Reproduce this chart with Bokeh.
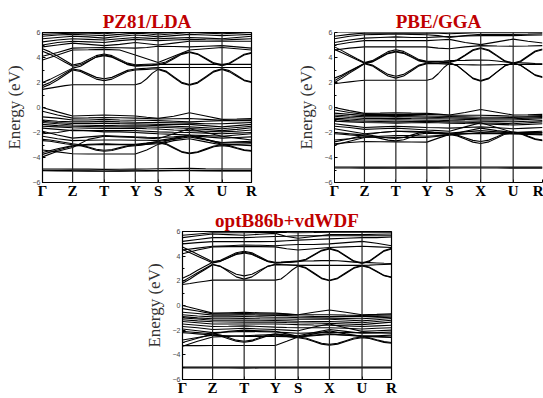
from bokeh.plotting import figure
from bokeh.layouts import column, row
from bokeh.models import FixedTicker, Span, Spacer, Range1d
from bokeh.embed import file_html
from bokeh.resources import INLINE

K_LABELS = ["Γ", "Z", "T", "Y", "S", "X", "U", "R"]
K_POS = [0.0, 0.144, 0.295, 0.444, 0.553, 0.703, 0.859, 1.0]
Y_TICKS = [-6, -4, -2, 0, 2, 4, 6]
TITLES = ["PZ81/LDA", "PBE/GGA", "optB86b+vdWDF"]

# Flatter bands: energies (eV) at Γ, mid, Z, mid, T, mid, Y, mid, S, mid, X, mid, U, mid, R
LDA_VALENCE = [
    [0.0, -0.35, -0.68, -0.64, -0.6, -0.64, -0.68, -0.78, -0.87, -0.7, -0.42, -0.68, -0.95, -0.92, -0.88],
    [-0.3, -0.6, -0.85, -0.83, -0.8, -0.82, -0.85, -0.88, -0.92, -0.9, -0.88, -0.95, -1.02, -1.0, -0.98],
    [-0.75, -0.85, -1.0, -1.0, -0.95, -1.0, -1.02, -1.02, -1.05, -1.1, -1.15, -1.1, -1.05, -1.05, -1.05],
    [-1.0, -1.1, -1.15, -1.15, -1.1, -1.15, -1.18, -1.2, -1.2, -1.22, -1.25, -1.3, -1.3, -1.25, -1.2],
    [-1.1, -1.2, -1.28, -1.28, -1.25, -1.28, -1.3, -1.32, -1.35, -1.35, -1.35, -1.45, -1.55, -1.45, -1.35],
    [-1.2, -1.3, -1.4, -1.42, -1.45, -1.42, -1.4, -1.42, -1.45, -1.5, -1.55, -1.62, -1.7, -1.6, -1.5],
    [-1.35, -1.45, -1.5, -1.52, -1.55, -1.55, -1.55, -1.55, -1.58, -1.62, -1.68, -1.75, -1.85, -1.75, -1.62],
    [-1.5, -1.55, -1.62, -1.65, -1.68, -1.68, -1.65, -1.7, -1.72, -1.8, -1.85, -1.9, -1.95, -1.9, -1.8],
    [-1.65, -1.75, -1.85, -1.85, -1.85, -1.85, -1.85, -1.9, -1.95, -1.98, -2.0, -2.05, -2.1, -2.05, -2.0],
    [-1.9, -2.2, -2.45, -2.35, -2.25, -2.3, -2.35, -2.38, -2.4, -2.35, -2.25, -2.35, -2.45, -2.4, -2.35],
    [-2.1, -2.0, -1.8, -1.85, -1.95, -1.95, -2.0, -2.05, -2.1, -2.15, -2.2, -2.25, -2.3, -2.45, -2.6],
    [-2.3, -2.5, -2.65, -2.62, -2.6, -2.6, -2.62, -2.62, -2.65, -2.45, -2.25, -2.55, -2.85, -2.82, -2.8],
    [-3.4, -3.55, -3.7, -3.72, -3.72, -3.72, -3.72, -3.4, -2.95, -2.65, -2.5, -2.75, -3.0, -2.95, -2.9],
    [-3.6, -3.3, -3.05, -2.95, -2.9, -2.95, -2.95, -2.85, -2.72, -2.55, -2.35, -2.6, -2.8, -2.75, -2.7],
    [-3.75, -3.4, -3.1, -3.0, -2.95, -2.98, -3.0, -2.95, -2.9, -2.5, -2.2, -2.55, -2.95, -3.0, -3.05],
    [-3.95, -3.5, -3.2, -2.55, -2.3, -2.35, -2.4, -2.45, -2.5, -2.1, -1.7, -2.0, -2.3, -2.2, -2.1],
    [-4.92, -4.92, -4.93, -4.93, -4.95, -4.94, -4.93, -4.92, -4.9, -4.88, -4.87, -4.9, -4.92, -4.92, -4.92],
    [-5.02, -5.03, -5.05, -5.06, -5.08, -5.07, -5.06, -5.05, -5.04, -5.03, -5.02, -5.03, -5.05, -5.05, -5.05],
    [-5.06, -5.07, -5.08, -5.09, -5.1, -5.09, -5.08, -5.08, -5.07, -5.06, -5.06, -5.07, -5.08, -5.08, -5.08],
]
LDA_UPPER = [
    [3.8, 4.2, 4.6, 4.62, 4.65, 4.6, 4.2, 3.9, 3.6, 4.1, 4.6, 4.7, 4.8, 4.7, 4.6],
    [4.1, 4.4, 4.75, 4.78, 4.8, 4.78, 4.75, 4.8, 4.9, 4.88, 4.85, 4.9, 4.95, 4.85, 4.75],
    [4.85, 5.0, 5.15, 5.05, 4.95, 5.05, 5.2, 5.1, 5.0, 5.15, 5.3, 5.3, 5.3, 5.3, 5.3],
    [5.0, 5.2, 5.3, 5.25, 5.2, 5.35, 5.45, 5.4, 5.35, 5.4, 5.45, 5.42, 5.4, 5.45, 5.5],
    [5.25, 5.4, 5.5, 5.45, 5.4, 5.5, 5.6, 5.55, 5.5, 5.55, 5.6, 5.55, 5.5, 5.6, 5.7],
    [5.5, 5.6, 5.7, 5.65, 5.55, 5.7, 5.8, 5.75, 5.65, 5.75, 5.85, 5.8, 5.75, 5.8, 5.85],
    [5.7, 5.8, 5.85, 5.8, 5.75, 5.85, 5.95, 5.9, 5.8, 5.9, 6.0, 5.95, 5.9, 5.95, 6.0],
    [5.85, 5.9, 5.95, 5.95, 5.9, 6.0, 6.05, 6.0, 5.95, 6.0, 6.1, 6.05, 6.0, 6.05, 6.1],
]
# Dispersive bands: energies at Γ, 3 quarter points, Z, 3, T, 3, Y, 3, S, 3, X, 3, U, 3, R
LDA_DISPERSIVE = [
    [1.45, 1.55, 1.65, 1.75, 1.82, 1.82, 1.82, 1.82, 1.82, 1.82, 1.82, 1.82, 1.82, 1.95, 2.3, 2.75, 3.05, 2.85, 2.4, 1.95, 1.78, 1.95, 2.4, 2.85, 3.05, 2.85, 2.5, 2.15, 2.0],
    [1.6, 1.85, 2.2, 2.6, 3.0, 2.88, 2.58, 2.27, 2.15, 2.27, 2.58, 2.88, 3.0, 3.03, 3.05, 3.08, 3.1, 2.92, 2.47, 2.02, 1.83, 2.02, 2.47, 2.92, 3.1, 2.95, 2.58, 2.2, 2.05],
    [1.75, 2.0, 2.35, 2.72, 3.08, 2.97, 2.69, 2.41, 2.3, 2.41, 2.69, 2.97, 3.08, 3.11, 3.14, 3.17, 3.2, 3.2, 3.2, 3.2, 3.2, 3.2, 3.2, 3.2, 3.2, 3.2, 3.2, 3.2, 3.2],
    [4.5, 4.25, 3.95, 3.62, 3.3, 3.42, 3.72, 4.03, 4.15, 4.03, 3.75, 3.47, 3.35, 3.37, 3.4, 3.42, 3.45, 3.45, 3.45, 3.45, 3.45, 3.45, 3.45, 3.45, 3.45, 3.45, 3.45, 3.45, 3.45],
    [4.7, 4.45, 4.12, 3.76, 3.4, 3.53, 3.84, 4.15, 4.28, 4.15, 3.85, 3.55, 3.42, 3.44, 3.46, 3.48, 3.5, 3.64, 3.98, 4.31, 4.45, 4.3, 3.94, 3.57, 3.42, 3.56, 3.91, 4.26, 4.4],
    [2.0, 2.25, 2.55, 2.85, 3.15, 3.3, 3.68, 4.05, 4.2, 4.07, 3.75, 3.43, 3.3, 3.32, 3.35, 3.37, 3.4, 3.55, 3.9, 4.25, 4.4, 4.25, 3.88, 3.5, 3.35, 3.5, 3.85, 4.2, 4.35],
    [-2.55, -2.6, -2.7, -2.8, -2.9, -2.98, -3.16, -3.34, -3.42, -3.36, -3.21, -3.06, -3.0, -2.95, -2.87, -2.8, -2.75, -2.88, -3.2, -3.52, -3.65, -3.55, -3.31, -3.08, -2.98, -3.05, -3.22, -3.38, -3.45],
    [-2.65, -2.7, -2.8, -2.9, -2.98, -3.05, -3.22, -3.42, -3.5, -3.44, -3.28, -3.12, -3.06, -3.02, -2.94, -2.87, -2.82, -2.95, -3.26, -3.57, -3.7, -3.6, -3.37, -3.14, -3.05, -3.12, -3.28, -3.43, -3.5],
]

PBE_VALENCE = [
    [0.0, -0.25, -0.47, -0.45, -0.42, -0.45, -0.47, -0.53, -0.6, -0.4, -0.16, -0.38, -0.6, -0.58, -0.55],
    [-0.2, -0.4, -0.55, -0.55, -0.55, -0.55, -0.55, -0.58, -0.62, -0.62, -0.62, -0.65, -0.7, -0.68, -0.65],
    [-0.45, -0.55, -0.65, -0.65, -0.62, -0.65, -0.68, -0.7, -0.72, -0.75, -0.78, -0.78, -0.8, -0.75, -0.72],
    [-0.6, -0.68, -0.75, -0.75, -0.72, -0.75, -0.78, -0.8, -0.82, -0.85, -0.9, -0.9, -0.9, -0.85, -0.8],
    [-0.7, -0.8, -0.88, -0.88, -0.85, -0.88, -0.9, -0.9, -0.92, -0.95, -1.0, -1.0, -1.0, -0.95, -0.9],
    [-0.85, -0.92, -1.0, -1.0, -0.98, -1.0, -1.02, -1.02, -1.05, -1.08, -1.1, -1.12, -1.15, -1.1, -1.05],
    [-0.95, -1.05, -1.1, -1.12, -1.15, -1.12, -1.1, -1.12, -1.15, -1.18, -1.22, -1.25, -1.3, -1.22, -1.15],
    [-1.1, -1.15, -1.2, -1.22, -1.25, -1.22, -1.2, -1.22, -1.25, -1.28, -1.3, -1.35, -1.4, -1.35, -1.3],
    [-1.3, -1.45, -1.6, -1.55, -1.5, -1.55, -1.6, -1.62, -1.65, -1.6, -1.55, -1.62, -1.7, -1.65, -1.6],
    [-1.5, -1.6, -1.75, -1.7, -1.65, -1.72, -1.8, -1.85, -1.9, -1.55, -1.22, -1.6, -2.0, -1.95, -1.9],
    [-1.7, -1.9, -2.1, -2.0, -1.9, -1.95, -2.0, -2.05, -2.1, -2.1, -2.1, -2.1, -2.1, -2.1, -2.1],
    [-2.6, -2.5, -2.35, -2.38, -2.4, -2.4, -2.4, -2.3, -2.2, -2.1, -2.0, -2.05, -2.1, -2.05, -2.0],
    [-2.75, -2.5, -2.2, -2.0, -1.9, -1.9, -1.95, -2.0, -2.05, -1.95, -1.85, -1.95, -2.05, -2.1, -2.15],
    [-2.9, -2.8, -2.72, -2.74, -2.75, -2.76, -2.77, -2.45, -2.15, -2.1, -2.05, -2.08, -2.1, -2.15, -2.2],
    [-3.0, -2.7, -2.4, -2.3, -2.25, -2.25, -2.3, -2.25, -2.2, -1.9, -1.65, -1.85, -2.0, -2.0, -2.0],
    [-4.76, -4.76, -4.77, -4.77, -4.77, -4.77, -4.77, -4.77, -4.76, -4.76, -4.76, -4.76, -4.77, -4.77, -4.77],
    [-4.84, -4.84, -4.85, -4.85, -4.86, -4.85, -4.85, -4.85, -4.84, -4.84, -4.84, -4.84, -4.85, -4.85, -4.85],
]
PBE_UPPER = [
    [4.6, 4.75, 4.85, 4.85, 4.85, 4.85, 4.85, 4.75, 4.7, 4.85, 4.95, 4.92, 4.9, 4.92, 4.95],
    [5.0, 5.2, 5.35, 5.35, 5.35, 5.35, 5.35, 5.4, 5.45, 5.2, 5.03, 5.25, 5.47, 5.3, 5.16],
    [5.2, 5.4, 5.55, 5.6, 5.65, 5.6, 5.6, 5.65, 5.68, 5.72, 5.75, 5.75, 5.75, 5.78, 5.8],
    [5.5, 5.7, 5.82, 5.85, 5.88, 5.85, 5.82, 5.75, 5.6, 5.75, 5.85, 5.85, 5.85, 5.87, 5.9],
    [5.7, 5.85, 5.95, 5.95, 5.95, 5.95, 5.95, 5.95, 5.9, 5.95, 6.0, 6.0, 6.0, 6.0, 6.0],
]
PBE_DISPERSIVE = [
    [1.9, 1.98, 2.05, 2.12, 2.18, 2.18, 2.18, 2.18, 2.18, 2.18, 2.18, 2.18, 2.18, 2.3, 2.7, 3.2, 3.55, 3.34, 2.83, 2.31, 2.1, 2.31, 2.83, 3.34, 3.55, 3.38, 2.98, 2.57, 2.4],
    [2.0, 2.35, 2.75, 3.12, 3.5, 3.33, 2.92, 2.52, 2.35, 2.52, 2.92, 3.33, 3.5, 3.51, 3.52, 3.54, 3.55, 3.35, 2.85, 2.35, 2.15, 2.35, 2.85, 3.35, 3.55, 3.39, 3.0, 2.61, 2.45],
    [2.15, 2.5, 2.85, 3.2, 3.55, 3.4, 3.02, 2.65, 2.5, 2.65, 3.02, 3.4, 3.55, 3.52, 3.5, 3.48, 3.45, 3.44, 3.42, 3.41, 3.4, 3.41, 3.42, 3.44, 3.45, 3.45, 3.45, 3.45, 3.45],
    [4.65, 4.38, 4.1, 3.82, 3.55, 3.69, 4.02, 4.36, 4.5, 4.38, 4.07, 3.77, 3.65, 3.67, 3.7, 3.72, 3.75, 3.76, 3.77, 3.79, 3.8, 3.78, 3.72, 3.64, 3.6, 3.58, 3.55, 3.52, 3.5],
    [4.85, 4.55, 4.22, 3.9, 3.6, 3.75, 4.1, 4.47, 4.62, 4.49, 4.16, 3.83, 3.7, 3.69, 3.68, 3.66, 3.65, 3.82, 4.2, 4.62, 4.78, 4.6, 4.17, 3.73, 3.55, 3.72, 4.12, 4.52, 4.68],
    [2.35, 2.6, 2.92, 3.22, 3.5, 3.64, 3.98, 4.31, 4.45, 4.33, 4.03, 3.72, 3.6, 3.62, 3.62, 3.61, 3.6, 3.76, 4.16, 4.56, 4.72, 4.54, 4.11, 3.68, 3.5, 3.66, 4.06, 4.46, 4.62],
    [-2.0, -2.05, -2.1, -2.15, -2.2, -2.24, -2.34, -2.44, -2.48, -2.4, -2.21, -2.03, -1.95, -1.98, -2.04, -2.09, -2.12, -2.21, -2.42, -2.63, -2.72, -2.61, -2.34, -2.06, -1.95, -2.05, -2.28, -2.5, -2.6],
    [-2.1, -2.14, -2.19, -2.23, -2.28, -2.34, -2.47, -2.61, -2.67, -2.58, -2.36, -2.14, -2.05, -2.07, -2.1, -2.13, -2.16, -2.27, -2.52, -2.77, -2.88, -2.75, -2.44, -2.13, -2.0, -2.1, -2.33, -2.55, -2.65],
]

OPT_VALENCE = [
    [0.0, -0.3, -0.62, -0.59, -0.56, -0.59, -0.62, -0.68, -0.75, -0.55, -0.36, -0.55, -0.75, -0.72, -0.67],
    [-0.25, -0.45, -0.68, -0.68, -0.66, -0.68, -0.7, -0.72, -0.75, -0.75, -0.75, -0.78, -0.8, -0.78, -0.75],
    [-0.55, -0.65, -0.78, -0.78, -0.76, -0.78, -0.8, -0.82, -0.85, -0.88, -0.9, -0.9, -0.9, -0.88, -0.85],
    [-0.75, -0.85, -0.92, -0.92, -0.9, -0.92, -0.95, -0.95, -0.98, -1.0, -1.02, -1.05, -1.08, -1.0, -0.95],
    [-0.9, -1.0, -1.08, -1.08, -1.05, -1.08, -1.1, -1.1, -1.12, -1.12, -1.12, -1.18, -1.25, -1.15, -1.05],
    [-1.0, -1.1, -1.2, -1.2, -1.2, -1.2, -1.22, -1.25, -1.28, -1.3, -1.3, -1.35, -1.4, -1.3, -1.2],
    [-1.15, -1.25, -1.32, -1.34, -1.35, -1.35, -1.35, -1.38, -1.4, -1.42, -1.45, -1.5, -1.55, -1.45, -1.35],
    [-1.3, -1.4, -1.5, -1.5, -1.5, -1.5, -1.5, -1.52, -1.55, -1.58, -1.6, -1.65, -1.7, -1.65, -1.6],
    [-1.5, -1.6, -1.7, -1.68, -1.65, -1.7, -1.75, -1.78, -1.8, -1.8, -1.8, -1.85, -1.9, -1.85, -1.8],
    [-1.7, -1.8, -1.95, -1.9, -1.85, -1.9, -1.95, -2.0, -2.05, -1.75, -1.5, -1.8, -2.1, -2.05, -2.0],
    [-1.9, -2.05, -2.2, -2.15, -2.1, -2.12, -2.15, -2.2, -2.25, -2.22, -2.2, -2.2, -2.2, -2.22, -2.25],
    [-2.8, -2.6, -2.4, -2.45, -2.5, -2.5, -2.5, -2.52, -2.55, -2.3, -2.06, -2.3, -2.5, -2.45, -2.4],
    [-3.0, -2.65, -2.3, -2.1, -2.0, -2.05, -2.1, -2.3, -2.5, -2.4, -2.3, -2.4, -2.5, -2.55, -2.6],
    [-3.25, -3.25, -3.24, -3.24, -3.24, -3.24, -3.24, -2.9, -2.55, -2.45, -2.35, -2.4, -2.45, -2.5, -2.55],
    [-3.3, -2.9, -2.55, -2.5, -2.45, -2.4, -2.35, -2.4, -2.45, -2.2, -1.95, -2.1, -2.25, -2.2, -2.15],
    [-4.99, -4.99, -5.0, -5.0, -5.0, -5.0, -5.0, -5.0, -4.99, -4.99, -4.99, -4.99, -5.0, -5.0, -5.0],
    [-5.06, -5.06, -5.07, -5.07, -5.08, -5.07, -5.07, -5.07, -5.06, -5.06, -5.06, -5.06, -5.07, -5.07, -5.07],
]
OPT_UPPER = [
    [4.2, 4.5, 4.75, 4.77, 4.78, 4.77, 4.75, 4.6, 4.5, 4.6, 4.7, 4.75, 4.8, 4.75, 4.7],
    [4.5, 4.65, 4.8, 4.85, 4.9, 4.88, 4.85, 4.9, 4.95, 4.95, 5.0, 5.1, 5.2, 5.05, 4.85],
    [5.0, 5.1, 5.18, 5.18, 5.18, 5.18, 5.2, 5.25, 5.3, 5.35, 5.4, 5.45, 5.5, 5.5, 5.55],
    [5.2, 5.35, 5.5, 5.5, 5.5, 5.55, 5.6, 5.62, 5.65, 5.65, 5.65, 5.65, 5.65, 5.65, 5.65],
    [5.5, 5.65, 5.8, 5.75, 5.7, 5.78, 5.85, 5.6, 5.45, 5.6, 5.75, 5.75, 5.75, 5.78, 5.8],
    [5.7, 5.8, 5.9, 5.9, 5.9, 5.92, 5.95, 5.92, 5.9, 5.92, 5.95, 5.95, 5.95, 5.95, 5.95],
]
OPT_DISPERSIVE = [
    [1.7, 1.78, 1.88, 1.97, 2.06, 2.06, 2.06, 2.06, 2.06, 2.06, 2.06, 2.06, 2.06, 2.15, 2.5, 2.9, 3.2, 3.02, 2.6, 2.18, 2.0, 2.18, 2.6, 3.02, 3.2, 3.06, 2.73, 2.41, 2.27],
    [1.8, 2.15, 2.55, 2.92, 3.3, 3.17, 2.85, 2.53, 2.4, 2.53, 2.85, 3.17, 3.3, 3.29, 3.28, 3.26, 3.25, 3.07, 2.65, 2.23, 2.05, 2.23, 2.65, 3.07, 3.25, 3.11, 2.78, 2.44, 2.3],
    [1.95, 2.3, 2.65, 3.0, 3.35, 3.17, 2.75, 2.32, 2.14, 2.32, 2.75, 3.17, 3.35, 3.32, 3.3, 3.28, 3.25, 3.25, 3.25, 3.25, 3.25, 3.25, 3.25, 3.25, 3.25, 3.27, 3.3, 3.33, 3.35],
    [4.55, 4.28, 4.0, 3.72, 3.45, 3.58, 3.88, 4.19, 4.32, 4.19, 3.88, 3.58, 3.45, 3.48, 3.52, 3.56, 3.6, 3.61, 3.62, 3.64, 3.65, 3.63, 3.58, 3.52, 3.5, 3.48, 3.45, 3.42, 3.4],
    [4.75, 4.45, 4.15, 3.85, 3.55, 3.67, 3.98, 4.28, 4.4, 4.27, 3.95, 3.63, 3.5, 3.52, 3.55, 3.58, 3.6, 3.75, 4.12, 4.48, 4.63, 4.46, 4.04, 3.62, 3.45, 3.62, 4.04, 4.46, 4.63],
    [2.2, 2.5, 2.85, 3.18, 3.5, 3.61, 3.88, 4.14, 4.25, 4.13, 3.85, 3.57, 3.45, 3.47, 3.5, 3.52, 3.55, 3.7, 4.07, 4.43, 4.58, 4.41, 3.99, 3.57, 3.4, 3.57, 3.99, 4.41, 4.58],
    [-2.1, -2.15, -2.2, -2.25, -2.3, -2.39, -2.6, -2.81, -2.9, -2.81, -2.6, -2.39, -2.3, -2.34, -2.42, -2.5, -2.55, -2.64, -2.85, -3.06, -3.15, -3.06, -2.85, -2.64, -2.55, -2.62, -2.78, -2.93, -3.0],
    [-2.2, -2.25, -2.3, -2.35, -2.4, -2.48, -2.69, -2.9, -2.98, -2.89, -2.68, -2.47, -2.38, -2.42, -2.5, -2.57, -2.62, -2.71, -2.92, -3.13, -3.22, -3.13, -2.92, -2.71, -2.62, -2.68, -2.84, -2.99, -3.06],
]


def k_grid(n_sub):
    """Positions of the high-symmetry points with n_sub-1 evenly spaced points between them."""
    grid = []
    for i in range(len(K_POS) - 1):
        for j in range(n_sub):
            grid.append(K_POS[i] + (K_POS[i + 1] - K_POS[i]) * j / n_sub)
    grid.append(K_POS[-1])
    return grid


K_MID = k_grid(2)
K_QUARTER = k_grid(4)


def make_panel(title, coarse_bands, fine_bands, width, height, border_left, border_right,
               border_top, border_bottom, outline=True):
    p = figure(width=width, height=height,
               min_border_left=border_left, min_border_right=border_right,
               min_border_top=border_top, min_border_bottom=border_bottom,
               x_range=Range1d(0, 1.0), y_range=Range1d(-6, 6),
               output_backend="svg", toolbar_location=None, title=title)
    p.title.align = "center"
    p.title.text_font = "Liberation Serif"
    p.title.text_font_size = "19px"
    p.title.text_font_style = "bold"
    p.title.text_color = "#c00000"
    p.title.standoff = 2
    p.title.offset = 0
    p.xgrid.visible = False
    p.ygrid.visible = False
    p.background_fill_color = "white"
    p.border_fill_color = "white"
    if outline:
        p.outline_line_color = "black"
        p.outline_line_width = 1.2
    else:
        p.outline_line_color = None
        p.add_layout(Span(location=6, dimension="width", line_color="black", line_width=1.2))

    for k in K_POS[1:-1]:
        p.add_layout(Span(location=k, dimension="height", line_color="#222222", line_width=1.2))

    p.multi_line([K_MID for _ in coarse_bands], coarse_bands, line_color="black", line_width=1.1)
    p.multi_line([K_QUARTER for _ in fine_bands], fine_bands, line_color="black", line_width=1.1)

    p.yaxis.ticker = FixedTicker(ticks=Y_TICKS, minor_ticks=[-5, -3, -1, 1, 3, 5])
    p.yaxis.major_label_text_font = "Liberation Sans"
    p.yaxis.major_label_text_font_size = "7px"
    p.yaxis.major_label_text_color = "#444444"
    p.yaxis.major_label_standoff = 2
    p.yaxis.major_tick_in = 3
    p.yaxis.major_tick_out = 0
    p.yaxis.minor_tick_in = 2
    p.yaxis.minor_tick_out = 0
    p.yaxis.axis_label = "Energy (eV)"
    p.yaxis.axis_label_text_font = "Liberation Serif"
    p.yaxis.axis_label_text_font_size = "17px"
    p.yaxis.axis_label_text_font_style = "normal"
    p.yaxis.axis_label_text_color = "#333333"
    p.yaxis.axis_label_standoff = 6
    p.yaxis.axis_line_color = "black"

    p.xaxis.ticker = FixedTicker(ticks=K_POS)
    p.xaxis.major_label_overrides = {k: lab for k, lab in zip(K_POS, K_LABELS)}
    p.xaxis.major_label_text_font = "Liberation Serif"
    p.xaxis.major_label_text_font_size = "15px"
    p.xaxis.major_label_text_font_style = "bold"
    p.xaxis.major_label_text_color = "black"
    p.xaxis.major_label_standoff = 0
    p.xaxis.major_tick_in = 3
    p.xaxis.major_tick_out = 0
    p.xaxis.axis_line_color = "black"
    return p


p1 = make_panel(TITLES[0], LDA_VALENCE + LDA_UPPER, LDA_DISPERSIVE, 270, 201, 42, 19, 32, 17)
p2 = make_panel(TITLES[1], PBE_VALENCE + PBE_UPPER, PBE_DISPERSIVE, 273, 201, 64, 1, 32, 17,
                outline=False)
p3 = make_panel(TITLES[2], OPT_VALENCE + OPT_UPPER, OPT_DISPERSIVE, 270, 197, 42, 19, 30, 15)

layout = column(row(p1, p2), row(Spacer(width=140, height=197), p3))

open("out.html", "w").write(file_html(layout, INLINE))
